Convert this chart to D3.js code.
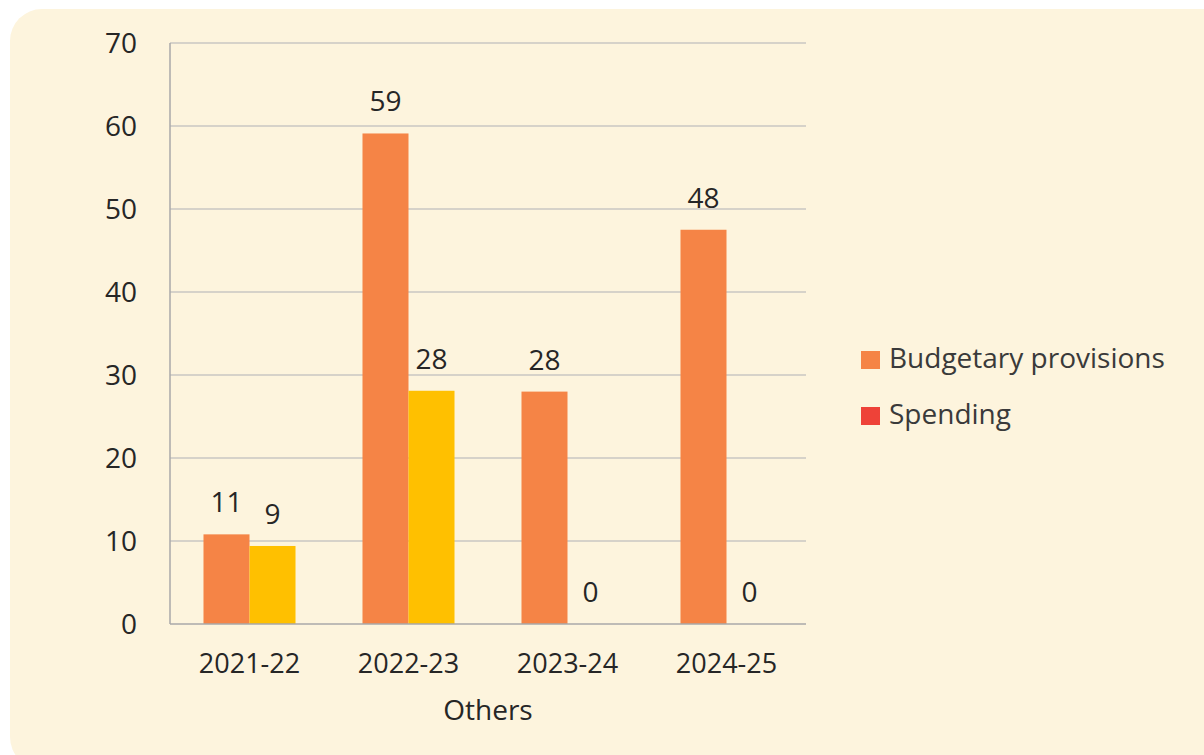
<!DOCTYPE html>
<html>
<head>
<meta charset="utf-8">
<script src="https://cdn.jsdelivr.net/npm/d3@7"></script>
<style>
  html, body { margin: 0; padding: 0; background: #ffffff; }
  svg { display: block; }
</style>
</head>
<body>
<svg id="chart" width="1204" height="755"></svg>
<script>
const years = ['2021-22', '2022-23', '2023-24', '2024-25'];
const seriesNames = ['Budgetary provisions', 'Spending'];
const budget = [10.8, 59.1, 28.0, 47.5];
const spending = [9.4, 28.1, 0, 0];
const budgetLabels = ['11', '59', '28', '48'];
const spendingLabels = ['9', '28', '0', '0'];
const yTicks = [0, 10, 20, 30, 40, 50, 60, 70];
const xTitle = 'Others';

const barColors = ['#F58446', '#FFC000'];
const legendColors = ['#F58446', '#EE4238'];

const font = "'Open Sans', sans-serif";
const svg = d3.select('#chart');

// cream panel behind everything
svg.append('rect')
    .attr('x', 10).attr('y', 9)
    .attr('width', 1230).attr('height', 760)
    .attr('rx', 32)
    .attr('fill', '#FDF4DD');

const plot = { left: 170, right: 806, top: 43, bottom: 624 };

const x0 = d3.scaleBand().domain(years).range([plot.left, plot.right]).padding(0);
const x1 = d3.scaleBand().domain(seriesNames).range([0, x0.bandwidth()])
    .paddingInner(0).paddingOuter(0.728);
const y = d3.scaleLinear().domain([0, 70]).range([plot.bottom, plot.top]);

// gridlines
svg.append('g')
    .selectAll('line')
    .data(yTicks.filter(t => t > 0))
    .join('line')
    .attr('x1', plot.left).attr('x2', plot.right)
    .attr('y1', d => y(d)).attr('y2', d => y(d))
    .attr('stroke', '#C9C7C2').attr('stroke-width', 1.3);

// y axis labels
svg.append('g')
    .selectAll('text')
    .data(yTicks)
    .join('text')
    .attr('x', 137)
    .attr('y', d => y(d))
    .attr('dy', '0.36em')
    .attr('text-anchor', 'end')
    .attr('font-family', font)
    .attr('font-size', 28)
    .attr('fill', '#262626')
    .text(d => d);

const rows = years.map((yr, i) => ({
    year: yr,
    values: [
        { key: seriesNames[0], v: budget[i], label: budgetLabels[i], c: barColors[0] },
        { key: seriesNames[1], v: spending[i], label: spendingLabels[i], c: barColors[1] },
    ],
}));

const groups = svg.append('g')
    .selectAll('g')
    .data(rows)
    .join('g')
    .attr('transform', d => `translate(${x0(d.year)},0)`);

groups.selectAll('rect')
    .data(d => d.values)
    .join('rect')
    .attr('x', d => x1(d.key))
    .attr('width', x1.bandwidth())
    .attr('y', d => y(d.v))
    .attr('height', d => y(0) - y(d.v))
    .attr('fill', d => d.c);

groups.selectAll('text')
    .data(d => d.values)
    .join('text')
    .attr('x', d => x1(d.key) + x1.bandwidth() / 2)
    .attr('y', d => y(d.v) - 22)
    .attr('text-anchor', 'middle')
    .attr('font-family', font)
    .attr('font-size', 28)
    .attr('fill', '#262626')
    .text(d => d.label);

// axis lines
svg.append('line')
    .attr('x1', plot.left).attr('x2', plot.left)
    .attr('y1', plot.top).attr('y2', plot.bottom)
    .attr('stroke', '#A8A8A8').attr('stroke-width', 1.5);
svg.append('line')
    .attr('x1', plot.left).attr('x2', plot.right)
    .attr('y1', plot.bottom).attr('y2', plot.bottom)
    .attr('stroke', '#A8A8A8').attr('stroke-width', 1.5);

// category labels
svg.append('g')
    .selectAll('text')
    .data(years)
    .join('text')
    .attr('x', d => x0(d) + x0.bandwidth() / 2)
    .attr('y', 673)
    .attr('text-anchor', 'middle')
    .attr('font-family', font)
    .attr('font-size', 27)
    .attr('fill', '#262626')
    .text(d => d);

svg.append('text')
    .attr('x', (plot.left + plot.right) / 2)
    .attr('y', 720)
    .attr('text-anchor', 'middle')
    .attr('font-family', font)
    .attr('font-size', 28)
    .attr('fill', '#262626')
    .text(xTitle);

// legend
const legend = svg.append('g')
    .selectAll('g')
    .data(seriesNames)
    .join('g')
    .attr('transform', (d, i) => `translate(861,${351 + i * 56})`);

legend.append('rect')
    .attr('width', 19).attr('height', 18)
    .attr('fill', (d, i) => legendColors[i]);

legend.append('text')
    .attr('x', 28)
    .attr('y', 17)
    .attr('font-family', font)
    .attr('font-size', 28)
    .attr('fill', '#3A3A3A')
    .text(d => d);
</script>
</body>
</html>
